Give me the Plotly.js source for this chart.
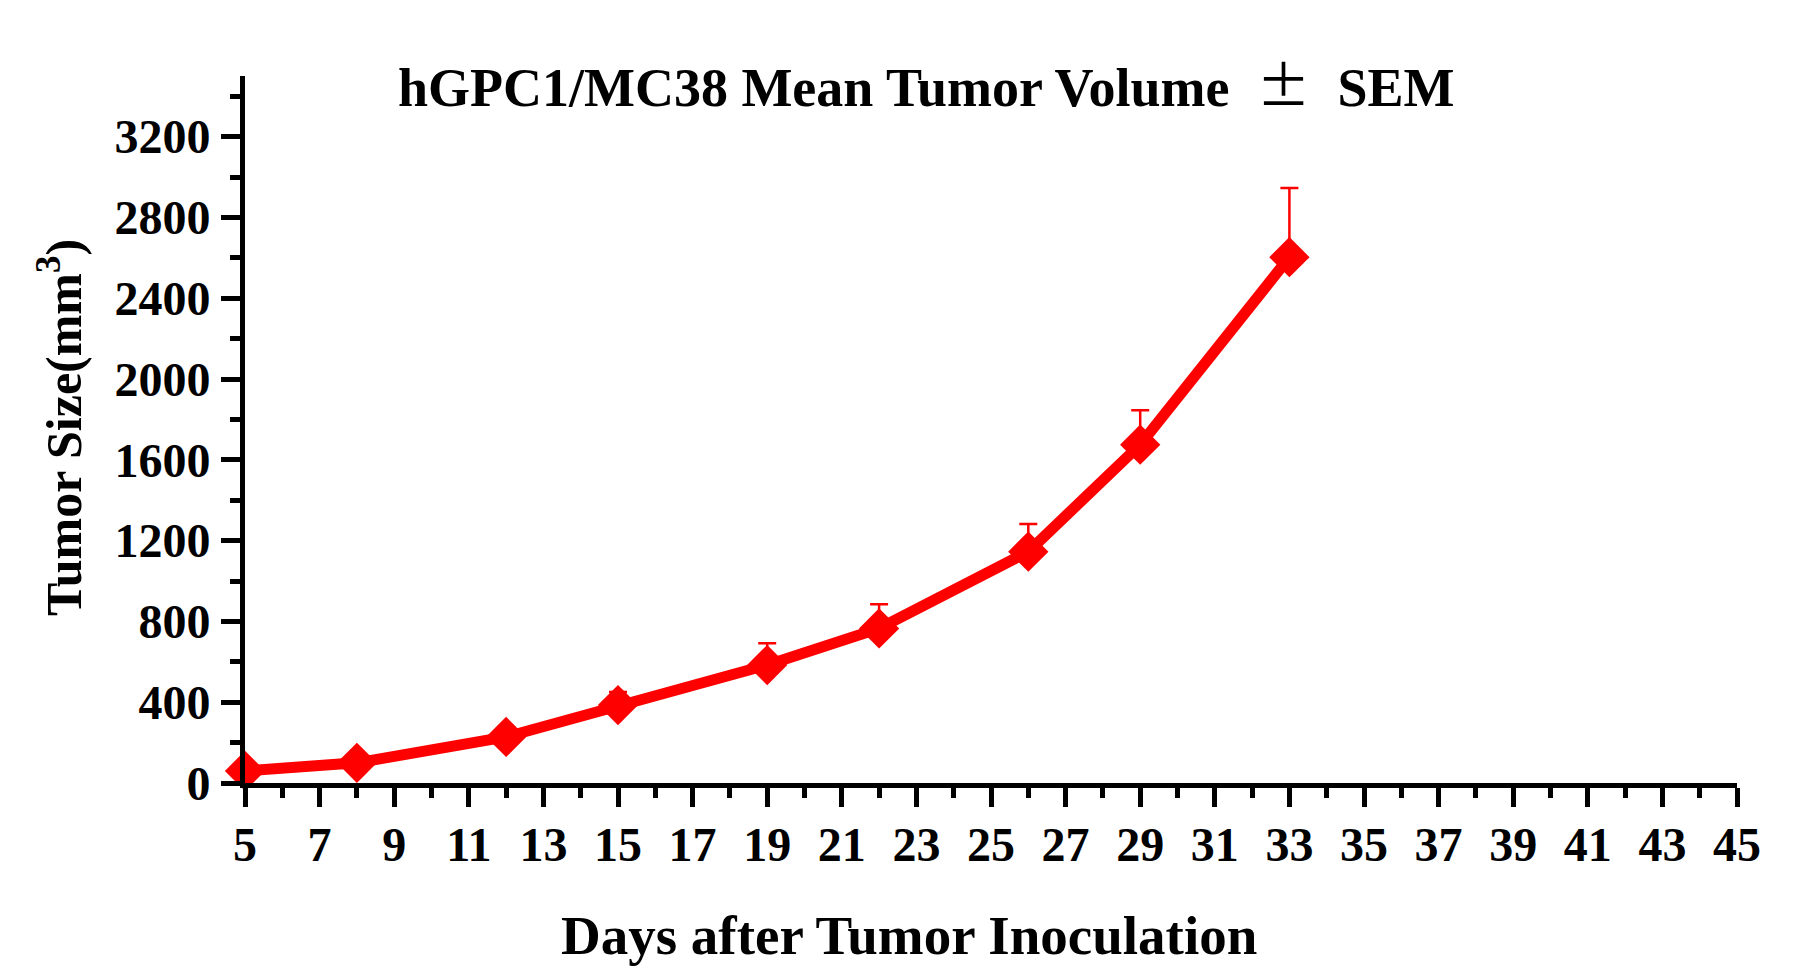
<!DOCTYPE html>
<html>
<head>
<meta charset="utf-8">
<script src="https://cdn.plot.ly/plotly-3.0.1.min.js"></script>
<style>
  html, body { margin: 0; padding: 0; background: #fff; }
  #chart { width: 1802px; height: 978px; }
</style>
</head>
<body>
<div id="chart"></div>
<script>
// days after inoculation, mean volume (mm^3) and upper SEM
const days = [5, 8, 12, 15, 19, 22, 26, 29, 33];
const meanVolume = [60, 100, 228, 386, 584, 765, 1145, 1675, 2603];
const semUpper = [10, 15, 25, 64, 108, 120, 137, 170, 343];
const semLower = [0, 0, 0, 0, 0, 0, 0, 0, 0];

const RED = '#FF0000';
const FONT = 'Liberation Serif, Times New Roman, serif';

const trace = {
    x: days, y: meanVolume,
    type: 'scatter', mode: 'lines+markers',
    line: { color: RED, width: 11 },
    marker: { symbol: 'diamond', size: 31, color: RED },
    error_y: {
        type: 'data', symmetric: false,
        array: semUpper, arrayminus: semLower,
        color: RED, thickness: 2.5, width: 9
    },
    cliponaxis: false,
    showlegend: false
};

const tickFont = { family: FONT, size: 48, color: '#000', weight: 'bold' };

const layout = {
    width: 1802, height: 978,
    paper_bgcolor: '#fff', plot_bgcolor: '#fff',
    font: { family: FONT, color: '#000' },
    margin: { l: 245, r: 65, t: 76, b: 195 },
    title: {
        text: 'hGPC1/MC38 Mean Tumor Volume  <span style="font-weight:normal;font-family:Noto Sans CJK SC">±</span>  SEM',
        font: { family: FONT, size: 54, color: '#000', weight: 'bold' },
        x: 0.514, xanchor: 'center', xref: 'container',
        y: 0.911, yanchor: 'middle', yref: 'container'
    },
    xaxis: {
        range: [5, 45], tick0: 5, dtick: 2,
        showgrid: false, zeroline: false,
        showline: true, linecolor: '#000', linewidth: 5,
        ticks: 'outside', ticklen: 19, tickwidth: 5, tickcolor: '#000',
        minor: { dtick: 1, ticks: 'outside', ticklen: 10, tickwidth: 5, tickcolor: '#000' },
        tickfont: tickFont, ticklabelstandoff: -4,
        fixedrange: true
    },
    yaxis: {
        range: [0, 3500], tick0: 0, dtick: 400,
        showgrid: false, zeroline: false,
        showline: true, linecolor: '#000', linewidth: 5,
        ticks: 'outside', ticklen: 19, tickwidth: 5, tickcolor: '#000',
        minor: { dtick: 200, ticks: 'outside', ticklen: 10, tickwidth: 5, tickcolor: '#000' },
        tickfont: tickFont, ticklabelstandoff: 1,
        fixedrange: true
    },
    annotations: [
        {
            text: 'Days after Tumor Inoculation',
            xref: 'paper', yref: 'paper', x: 0.445, y: -0.215,
            xanchor: 'center', yanchor: 'middle', showarrow: false,
            font: { family: FONT, size: 55, color: '#000', weight: 'bold' }
        },
        {
            text: 'Tumor Size(mm<sup>3</sup>)',
            xref: 'paper', yref: 'paper', x: -0.124, y: 0.5035,
            xanchor: 'center', yanchor: 'middle', showarrow: false, textangle: -90,
            font: { family: FONT, size: 50, color: '#000', weight: 'bold' }
        }
    ]
};

Plotly.newPlot('chart', [trace], layout, { displayModeBar: false, staticPlot: true });
</script>
</body>
</html>
